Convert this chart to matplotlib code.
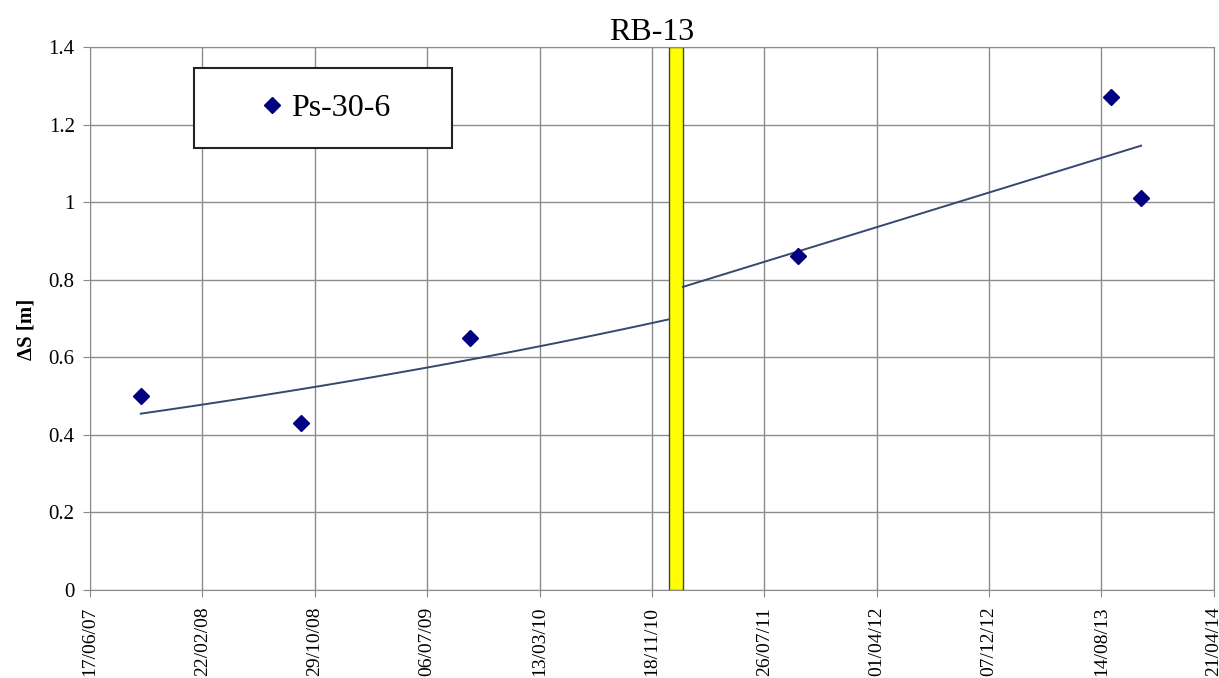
import matplotlib
matplotlib.use('Agg')
import matplotlib.pyplot as plt
import matplotlib.dates as mdates
from matplotlib.patches import Rectangle
import numpy as np
import pandas as pd

# Mesures de tassement du repère Ps-30-6
dates = pd.to_datetime(['2007-10-08', '2008-09-29', '2009-10-09',
                        '2011-10-09', '2013-09-05', '2013-11-10'])
delta_s = [0.50, 0.43, 0.65, 0.86, 1.27, 1.01]

# Période d'intervention (bande jaune)
event_start = pd.Timestamp('2010-12-26')
event_end = pd.Timestamp('2011-01-26')

# Axe des dates : pas de 250 jours
x_start = pd.Timestamp('2007-06-17')
x_end = pd.Timestamp('2014-04-21')
tick_dates = pd.date_range(x_start, x_end, freq='250D')

plt.rcParams['font.family'] = ['Liberation Serif', 'DejaVu Serif']

fig = plt.figure(figsize=(12.19, 6.78), dpi=100)
ax = fig.add_axes([0.0738, 0.1298, 0.922, 0.801])

xd = mdates.date2num(dates)
ys = np.array(delta_s)
x0 = mdates.date2num(event_start)
x1 = mdates.date2num(event_end)

# Tendance exponentielle avant l'intervention
avant = xd < x0
c = np.polyfit(xd[avant], np.log(ys[avant]), 1)
xa = np.linspace(xd[avant][0], x0, 100)
ax.plot(xa, np.exp(np.polyval(c, xa)), color='#34496e', lw=1.4, zorder=3)

# Tendance linéaire après l'intervention
apres = xd > x1
c2 = np.polyfit(xd[apres], ys[apres], 1)
xb = np.linspace(x1, xd[apres][-1], 100)
ax.plot(xb, np.polyval(c2, xb), color='#34496e', lw=1.4, zorder=3)

ax.axvspan(x0, x1, facecolor='#ffff00', edgecolor='#444444', lw=1.0, zorder=2)

ax.plot(xd, ys, linestyle='none', marker='D', color='#000080', markersize=8,
        label='Ps-30-6', zorder=4)

ax.set_xlim(mdates.date2num(x_start), mdates.date2num(x_end))
ax.set_ylim(0, 1.4)
ax.set_yticks(np.arange(0, 1.41, 0.2))
ax.set_yticklabels(['0', '0.2', '0.4', '0.6', '0.8', '1', '1.2', '1.4'])
ax.set_xticks(mdates.date2num(tick_dates))
ax.xaxis.set_major_formatter(mdates.DateFormatter('%d/%m/%y'))
plt.setp(ax.get_xticklabels(), rotation=90)
ax.tick_params(axis='both', labelsize=15, color='#888888', length=5, pad=6)
ax.tick_params(axis='x', labelsize=14, pad=7)

ax.grid(True, color='#8c8c8c', lw=1.0)
ax.set_axisbelow(True)
for s in ax.spines.values():
    s.set_color('#8c8c8c')

ax.set_ylabel('ΔS [m]', fontsize=15, fontweight='bold')
ax.yaxis.set_label_coords(-0.048, 0.479)
ax.set_title('RB-13', fontsize=23, pad=3)

# cadre de la légende, plus large que son contenu
cadre = Rectangle((0.093, 0.813), 0.2295, 0.149, transform=ax.transAxes,
                  facecolor='white', edgecolor='#222222', lw=1.5, zorder=5)
ax.add_patch(cadre)
leg = ax.legend(loc='center', bbox_to_anchor=(0.2078, 0.8875), fontsize=23,
                frameon=False, handletextpad=0.1, handlelength=1.0,
                borderaxespad=0)
leg.set_zorder(6)

fig.savefig('out.png', dpi=100)
